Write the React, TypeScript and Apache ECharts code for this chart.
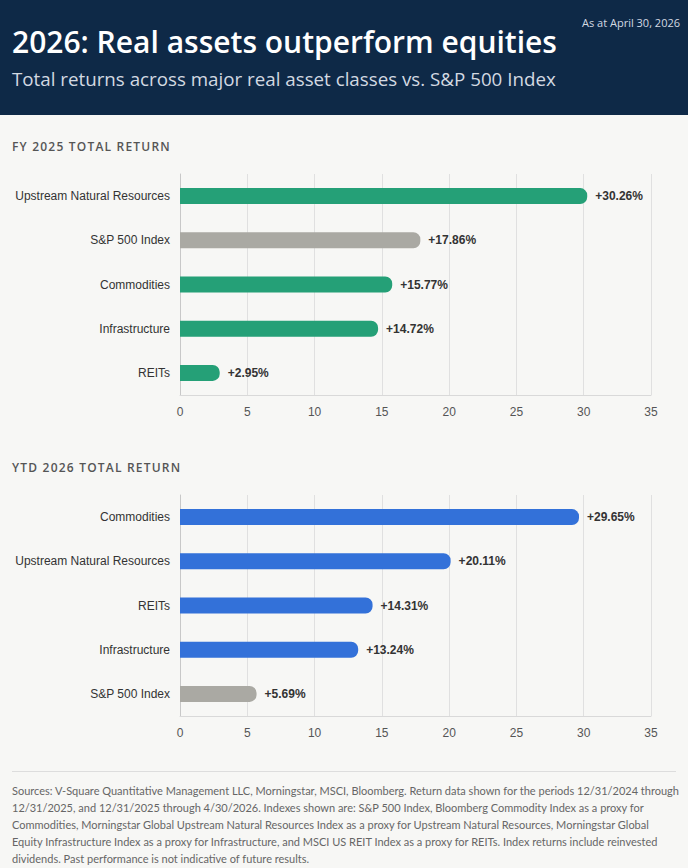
import React, { useEffect, useRef } from "react";
import * as echarts from "echarts";

const fyCategories = ["Upstream Natural Resources", "S&P 500 Index", "Commodities", "Infrastructure", "REITs"];
const fyValues = [30.26, 17.86, 15.77, 14.72, 2.95];
const ytdCategories = ["Commodities", "Upstream Natural Resources", "REITs", "Infrastructure", "S&P 500 Index"];
const ytdValues = [29.65, 20.11, 14.31, 13.24, 5.69];
const benchmark = "S&P 500 Index";
const xTicks = [0, 5, 10, 15, 20, 25, 30, 35];

const title = "2026: Real assets outperform equities";
const subtitle = "Total returns across major real asset classes vs. S&P 500 Index";
const asAt = "As at April 30, 2026";
const fyTitle = "FY 2025 TOTAL RETURN";
const ytdTitle = "YTD 2026 TOTAL RETURN";
const footerLines = [
  "Sources: V-Square Quantitative Management LLC, Morningstar, MSCI, Bloomberg. Return data shown for the periods 12/31/2024 through",
  "12/31/2025, and 12/31/2025 through 4/30/2026. Indexes shown are: S&P 500 Index, Bloomberg Commodity Index as a proxy for",
  "Commodities, Morningstar Global Upstream Natural Resources Index as a proxy for Upstream Natural Resources, Morningstar Global",
  "Equity Infrastructure Index as a proxy for Infrastructure, and MSCI US REIT Index as a proxy for REITs. Index returns include reinvested",
  "dividends. Past performance is not indicative of future results.",
];

const GREEN = "#25a077";
const BLUE = "#3371d9";
const GRAY = "#aaa9a3";

export default function App() {
  const ref = useRef<HTMLDivElement>(null);
  useEffect(() => {
    if (!ref.current) return;
    const chart = echarts.init(ref.current, undefined, { renderer: "svg" });
    const spaced = (s: string) => s.split("").join("\u200A");
    const xAxisCommon = {
      type: "value" as const,
      min: 0,
      max: xTicks[xTicks.length - 1],
      interval: 5,
      axisLine: { show: true, lineStyle: { color: "#d9d9d9" } },
      axisTick: { show: false },
      axisLabel: { color: "#555", fontSize: 12, fontFamily: "Liberation Sans, Arial", margin: 11 },
      splitLine: { show: true, lineStyle: { color: "#e0e0e0" } },
    };
    const yAxisCommon = (cats: string[]) => ({
      type: "category" as const,
      data: cats,
      inverse: true,
      axisLine: { show: true, lineStyle: { color: "#c8c8c8" } },
      axisTick: { show: false },
      axisLabel: { color: "#333", fontSize: 12, fontFamily: "Liberation Sans, Arial", margin: 10 },
    });
    const barSeries = (idx: number, cats: string[], vals: number[], color: string) => ({
      type: "bar" as const,
      xAxisIndex: idx,
      yAxisIndex: idx,
      barWidth: 16,
      data: vals.map((v, i) => ({
        value: v,
        itemStyle: { color: cats[i] === benchmark ? GRAY : color, borderRadius: [0, 7, 7, 0] },
      })),
      label: {
        show: true,
        position: "right" as const,
        distance: 8,
        color: "#333",
        fontSize: 12,
        fontWeight: "bold" as const,
        fontFamily: "Liberation Sans, Arial",
        formatter: (p: any) => "+" + Number(p.value).toFixed(2) + "%",
      },
    });
    chart.setOption({
      animation: false,
      backgroundColor: "#f7f7f5",
      grid: [
        { left: 180, right: 37, top: 174, height: 221 },
        { left: 180, right: 37, top: 495, height: 221 },
      ],
      xAxis: [{ ...xAxisCommon, gridIndex: 0 }, { ...xAxisCommon, gridIndex: 1 }],
      yAxis: [
        { ...yAxisCommon(fyCategories), gridIndex: 0 },
        { ...yAxisCommon(ytdCategories), gridIndex: 1 },
      ],
      series: [
        barSeries(0, fyCategories, fyValues, GREEN),
        barSeries(1, ytdCategories, ytdValues, BLUE),
      ],
      graphic: [
        { type: "rect", left: 0, top: 0, shape: { width: 688, height: 115 }, style: { fill: "#0e2947" }, silent: true },
        {
          type: "text", left: 12, top: 26,
          style: { text: title, fill: "#ffffff", fontSize: 30, fontWeight: 600, fontFamily: "Open Sans" },
        },
        {
          type: "text", left: 12, top: 69,
          style: { text: subtitle, fill: "#d3d9e2", fontSize: 18.75, fontFamily: "Open Sans" },
        },
        {
          type: "text", right: 8, top: 17,
          style: { text: asAt, fill: "#d3d9e2", fontSize: 11, fontFamily: "Open Sans" },
        },
        {
          type: "text", left: 12, top: 140,
          style: { text: spaced(fyTitle), fill: "#555", fontSize: 12, fontWeight: 600, fontFamily: "Open Sans" },
        },
        {
          type: "text", left: 12, top: 461,
          style: { text: spaced(ytdTitle), fill: "#555", fontSize: 12, fontWeight: 600, fontFamily: "Open Sans" },
        },
        {
          type: "line", shape: { x1: 12, y1: 771.5, x2: 676, y2: 771.5 },
          style: { stroke: "#dddddd", lineWidth: 1 },
        },
        ...footerLines.map((t, i) => ({
          type: "text", left: 12, top: 785 + i * 16.9,
          style: { text: t, fill: "#666", fontSize: 11, fontFamily: "Lato" },
        })),
      ],
    });
    return () => chart.dispose();
  }, []);
  return <div ref={ref} style={{ position: "absolute", left: 0, top: 0, width: 688, height: 868 }} />;
}
